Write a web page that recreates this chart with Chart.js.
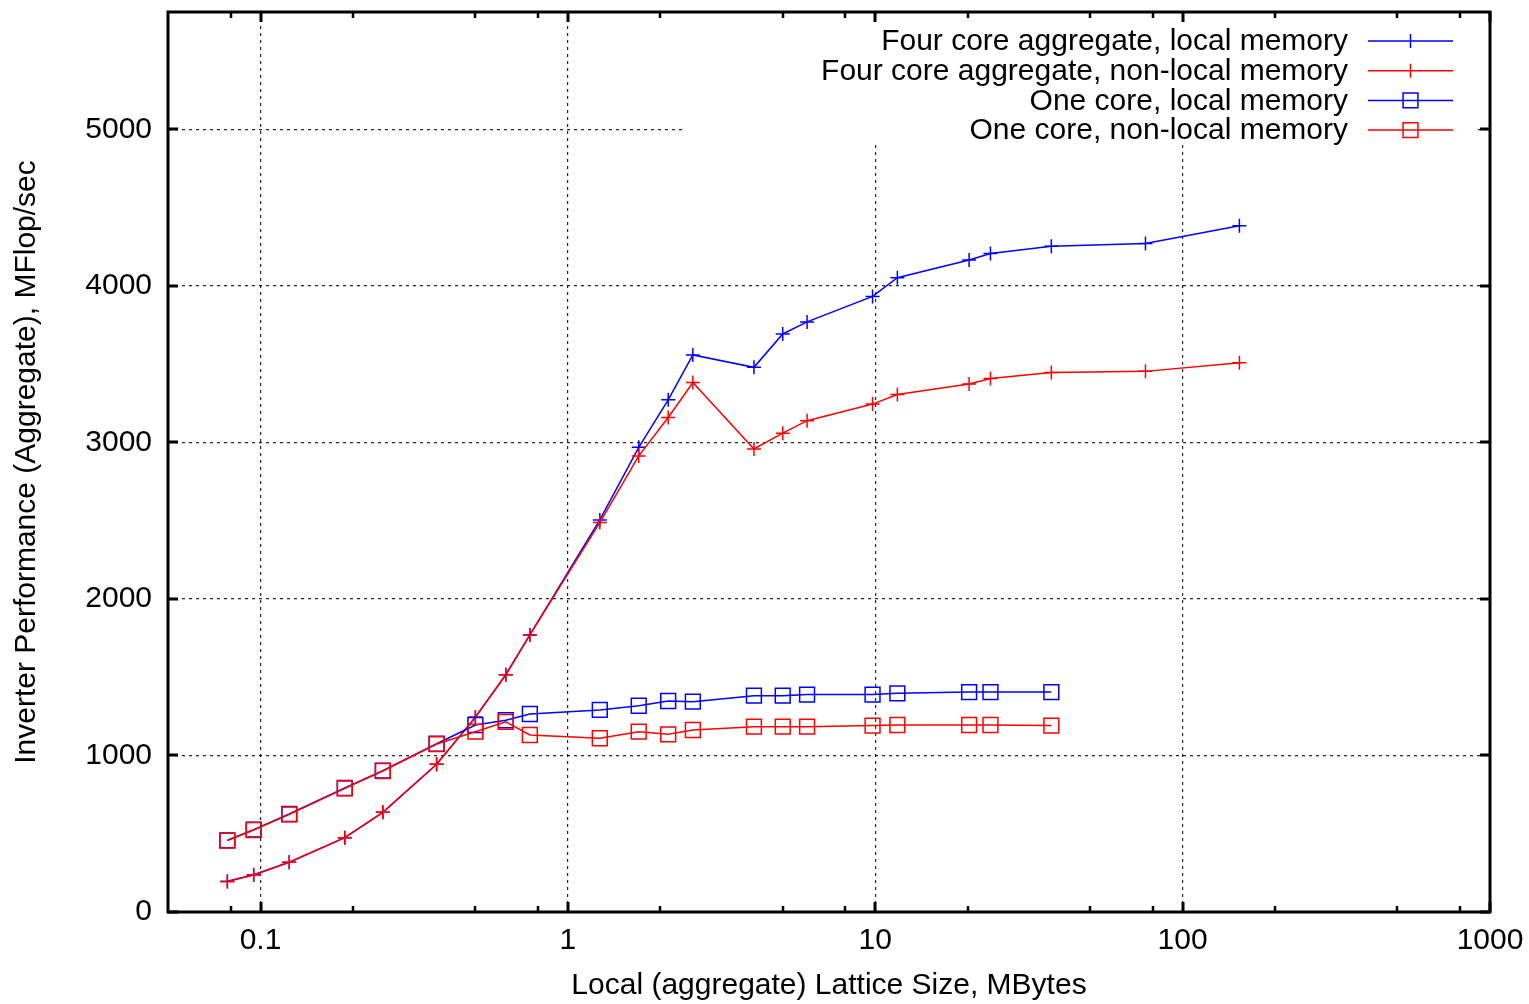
<!DOCTYPE html>
<html>
<head>
<meta charset="utf-8">
<script src="https://cdn.jsdelivr.net/npm/chart.js@4/dist/chart.umd.min.js"></script>
<style>
  html, body { margin: 0; padding: 0; background: #fff; }
  #wrap { width: 1529px; height: 1004px; position: relative; }
</style>
</head>
<body>
<div id="wrap"><canvas id="c" width="1529" height="1004"></canvas></div>
<script>
// ---- data ----
const seriesNames = [
  "Four core aggregate, local memory",
  "Four core aggregate, non-local memory",
  "One core, local memory",
  "One core, non-local memory"
];
const sizesFourCore = [0.078, 0.095, 0.124, 0.188, 0.25, 0.374, 0.5, 0.628, 0.752, 1.27, 1.7, 2.12, 2.55, 4.03, 5.0, 6.0, 9.8, 11.8, 20.2, 23.7, 37.4, 75.7, 153];
const sizesOneCore  = [0.078, 0.095, 0.124, 0.188, 0.25, 0.374, 0.5, 0.628, 0.752, 1.27, 1.7, 2.12, 2.55, 4.03, 5.0, 6.0, 9.8, 11.8, 20.2, 23.7, 37.4];
const fourCoreLocal    = [196, 238, 318, 475, 637, 944, 1244, 1516, 1770, 2505, 2969, 3272, 3559, 3480, 3693, 3770, 3933, 4052, 4166, 4207, 4253, 4271, 4385];
const fourCoreNonLocal = [194, 236, 318, 475, 637, 944, 1244, 1516, 1770, 2488, 2914, 3159, 3383, 2958, 3059, 3139, 3245, 3306, 3374, 3408, 3447, 3454, 3509];
const oneCoreLocal     = [458, 526, 626, 792, 903, 1075, 1195, 1225, 1265, 1291, 1318, 1348, 1344, 1382, 1382, 1389, 1389, 1397, 1405, 1405, 1405];
const oneCoreNonLocal  = [456, 524, 624, 790, 901, 1073, 1152, 1215, 1131, 1110, 1152, 1135, 1163, 1184, 1184, 1184, 1191, 1195, 1195, 1195, 1191];
const xMajorTicks = [0.1, 1, 10, 100, 1000];
const xMinorFactors = [2, 5, 8];
const yTicks = [0, 1000, 2000, 3000, 4000, 5000];
const xTitle = "Local (aggregate) Lattice Size, MBytes";
const yTitle = "Inverter Performance (Aggregate), MFlop/sec";

const FONT = "'Liberation Sans', Arial, Helvetica, sans-serif";
const BLUE = "#0000ff", RED = "#ff0000";

function pts(xs, ys) { return xs.map((x, i) => ({ x: x, y: ys[i] })); }

const seriesData = [
  { data: pts(sizesFourCore, fourCoreLocal), color: BLUE, style: 'cross', r: 7, order: 4 },
  { data: pts(sizesFourCore, fourCoreNonLocal), color: RED, style: 'cross', r: 7, order: 3 },
  { data: pts(sizesOneCore, oneCoreLocal), color: BLUE, style: 'rect', r: 10.5, order: 2 },
  { data: pts(sizesOneCore, oneCoreNonLocal), color: RED, style: 'rect', r: 10.5, order: 1 }
];

const datasets = seriesData.map((s, i) => ({
  label: seriesNames[i],
  data: s.data,
  borderColor: s.color,
  backgroundColor: 'rgba(0,0,0,0)',
  pointBorderColor: s.color,
  pointBackgroundColor: 'rgba(0,0,0,0)',
  pointStyle: s.style,
  pointRadius: s.r,
  pointHoverRadius: s.r,
  pointBorderWidth: 1.5,
  borderWidth: 1.5,
  tension: 0,
  fill: false,
  order: s.order
}));

const gnuplotPlugin = {
  id: 'gnuplotDecor',
  beforeDatasetsDraw(chart) {
    // key area is kept clear of grid lines
    const a = chart.chartArea, ctx = chart.ctx;
    ctx.save();
    ctx.fillStyle = '#ffffff';
    ctx.fillRect(a.left + 518, a.top + 2, (a.right - 12) - (a.left + 518), 131);
    ctx.restore();
  },
  afterDraw(chart) {
    const a = chart.chartArea, ctx = chart.ctx;
    const xs = chart.scales.x, ys = chart.scales.y;
    ctx.save();
    // ticks
    ctx.strokeStyle = '#000';
    ctx.lineWidth = 3;
    ctx.beginPath();
    xMajorTicks.forEach(v => {
      const p = Math.round(xs.getPixelForValue(v));
      ctx.moveTo(p, a.bottom); ctx.lineTo(p, a.bottom - 10);
      ctx.moveTo(p, a.top); ctx.lineTo(p, a.top + 10);
    });
    yTicks.forEach(v => {
      const p = Math.round(ys.getPixelForValue(v));
      ctx.moveTo(a.left, p); ctx.lineTo(a.left + 10, p);
      ctx.moveTo(a.right, p); ctx.lineTo(a.right - 10, p);
    });
    ctx.stroke();
    ctx.lineWidth = 2.5;
    ctx.beginPath();
    [0.01, 0.1, 1, 10, 100].forEach(d => {
      xMinorFactors.forEach(f => {
        const v = d * f;
        if (v <= xs.min || v >= xs.max) return;
        const p = Math.round(xs.getPixelForValue(v));
        ctx.moveTo(p, a.bottom); ctx.lineTo(p, a.bottom - 6);
        ctx.moveTo(p, a.top); ctx.lineTo(p, a.top + 6);
      });
    });
    ctx.stroke();
    // frame
    ctx.lineWidth = 3;
    ctx.strokeRect(a.left, a.top, a.right - a.left, a.bottom - a.top);

    // key
    const textRight = a.left + 1180;
    const lineX0 = a.left + 1200, lineX1 = a.left + 1285;
    ctx.font = '30px ' + FONT;
    ctx.textAlign = 'right';
    ctx.textBaseline = 'middle';
    seriesData.forEach((s, i) => {
      const y = a.top + 29 + i * 29.7;
      ctx.fillStyle = '#000';
      ctx.fillText(seriesNames[i], textRight, y + 1);
      ctx.strokeStyle = s.color;
      ctx.lineWidth = 1.5;
      ctx.beginPath();
      ctx.moveTo(lineX0, y); ctx.lineTo(lineX1, y);
      const cx = (lineX0 + lineX1) / 2;
      if (s.style === 'cross') {
        ctx.moveTo(cx, y - s.r); ctx.lineTo(cx, y + s.r);
      } else {
        const h = s.r * Math.SQRT1_2;
        ctx.rect(cx - h, y - h, 2 * h, 2 * h);
      }
      ctx.stroke();
    });
    ctx.restore();
  }
};

new Chart(document.getElementById('c'), {
  type: 'line',
  data: { datasets: datasets },
  plugins: [gnuplotPlugin],
  options: {
    responsive: false,
    animation: false,
    devicePixelRatio: 1,
    layout: { padding: { left: 0, right: 39, top: 12, bottom: 0 } },
    plugins: { legend: { display: false }, tooltip: { enabled: false } },
    scales: {
      x: {
        type: 'logarithmic',
        min: 0.05,
        max: 1000,
        afterBuildTicks(scale) { scale.ticks = xMajorTicks.map(v => ({ value: v, major: true })); },
        afterFit(scale) { scale.height = 92; scale.paddingLeft = 0; scale.paddingRight = 0; },
        ticks: {
          autoSkip: false, maxRotation: 0, minRotation: 0, padding: 11,
          color: '#000', font: { family: FONT, size: 30 },
          callback: (v) => String(v)
        },
        grid: { display: true, drawTicks: false, color: 'rgba(0,0,0,0.85)', lineWidth: 1.2 },
        border: { display: false, dash: [3, 4] },
        title: { display: true, text: xTitle, color: '#000', font: { family: FONT, size: 30 }, padding: { top: 0, bottom: 0 } }
      },
      y: {
        type: 'linear',
        min: 0,
        max: 5750,
        afterBuildTicks(scale) { scale.ticks = yTicks.map(v => ({ value: v })); },
        afterFit(scale) { scale.width = 168; scale.paddingTop = 0; scale.paddingBottom = 0; },
        ticks: {
          padding: 16, color: '#000', font: { family: FONT, size: 30 },
          callback: (v) => String(v)
        },
        grid: { display: true, drawTicks: false, color: 'rgba(0,0,0,0.85)', lineWidth: 1.2 },
        border: { display: false, dash: [3, 4] },
        title: { display: true, text: yTitle, color: '#000', font: { family: FONT, size: 30 }, padding: { top: 9, bottom: 0 } }
      }
    }
  }
});
</script>
</body>
</html>
